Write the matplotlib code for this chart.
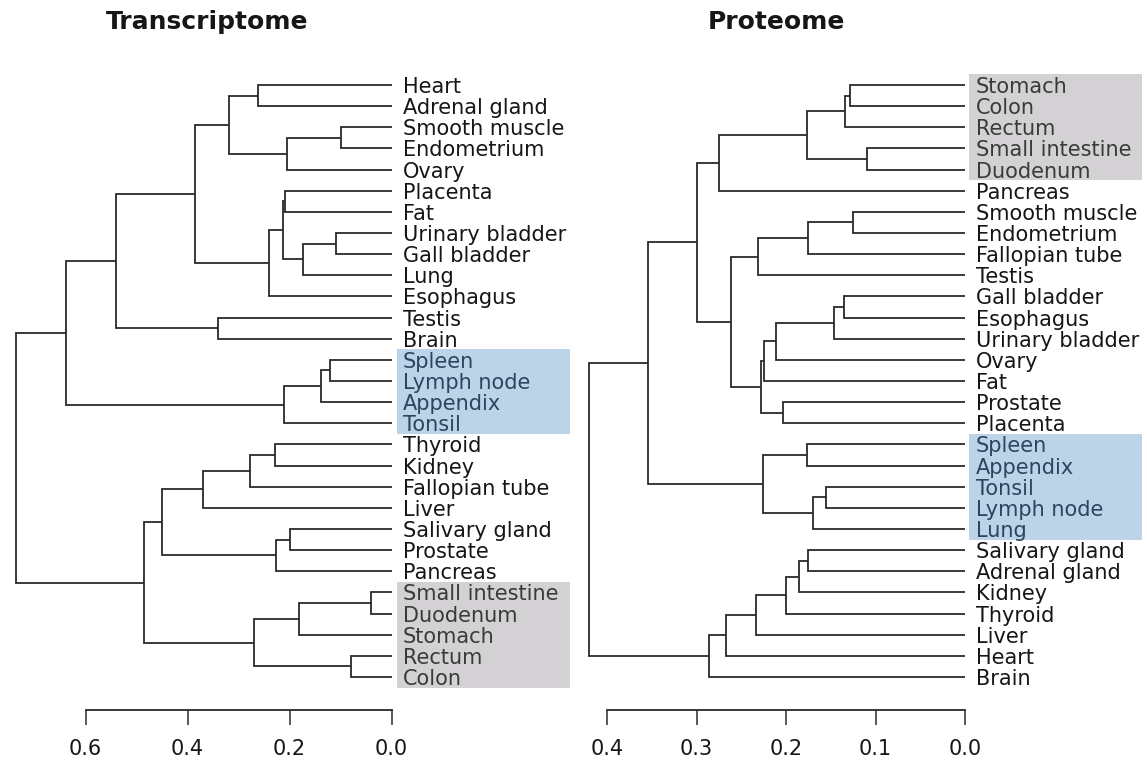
import matplotlib
matplotlib.use("Agg")
import matplotlib.pyplot as plt
from matplotlib.patches import Rectangle

plt.rcParams['font.family'] = ['DejaVu Sans']

W, H = 1147, 767

# Transcriptome clustering: leaf order top to bottom, then merges
# (child, child, height); a string is a leaf, an int is an earlier merge
rna_leaves = ['Heart', 'Adrenal gland', 'Smooth muscle', 'Endometrium', 'Ovary',
              'Placenta', 'Fat', 'Urinary bladder', 'Gall bladder', 'Lung',
              'Esophagus', 'Testis', 'Brain', 'Spleen', 'Lymph node', 'Appendix',
              'Tonsil', 'Thyroid', 'Kidney', 'Fallopian tube', 'Liver',
              'Salivary gland', 'Prostate', 'Pancreas', 'Small intestine',
              'Duodenum', 'Stomach', 'Rectum', 'Colon']
rna_merges = [
    ('Heart', 'Adrenal gland', 0.262),
    ('Smooth muscle', 'Endometrium', 0.099),
    (1, 'Ovary', 0.205),
    (0, 2, 0.319),
    ('Placenta', 'Fat', 0.208),
    ('Urinary bladder', 'Gall bladder', 0.108),
    (5, 'Lung', 0.174),
    (4, 6, 0.213),
    (7, 'Esophagus', 0.240),
    (3, 8, 0.386),
    ('Testis', 'Brain', 0.340),
    (9, 10, 0.540),
    ('Spleen', 'Lymph node', 0.120),
    (12, 'Appendix', 0.138),
    (13, 'Tonsil', 0.210),
    (11, 14, 0.638),
    ('Thyroid', 'Kidney', 0.229),
    (16, 'Fallopian tube', 0.278),
    (17, 'Liver', 0.369),
    ('Salivary gland', 'Prostate', 0.200),
    (19, 'Pancreas', 0.227),
    (18, 20, 0.450),
    ('Small intestine', 'Duodenum', 0.041),
    (22, 'Stomach', 0.182),
    ('Rectum', 'Colon', 0.079),
    (23, 24, 0.269),
    (21, 25, 0.486),
    (15, 26, 0.736),
]
rna_ticks = [0.6, 0.4, 0.2, 0.0]
rna_immune = ['Spleen', 'Lymph node', 'Appendix', 'Tonsil']
rna_gut = ['Small intestine', 'Duodenum', 'Stomach', 'Rectum', 'Colon']

# Proteome clustering
prot_leaves = ['Stomach', 'Colon', 'Rectum', 'Small intestine', 'Duodenum',
               'Pancreas', 'Smooth muscle', 'Endometrium', 'Fallopian tube',
               'Testis', 'Gall bladder', 'Esophagus', 'Urinary bladder', 'Ovary',
               'Fat', 'Prostate', 'Placenta', 'Spleen', 'Appendix', 'Tonsil',
               'Lymph node', 'Lung', 'Salivary gland', 'Adrenal gland', 'Kidney',
               'Thyroid', 'Liver', 'Heart', 'Brain']
prot_merges = [
    ('Stomach', 'Colon', 0.129),
    (0, 'Rectum', 0.134),
    ('Small intestine', 'Duodenum', 0.109),
    (1, 2, 0.177),
    (3, 'Pancreas', 0.275),
    ('Smooth muscle', 'Endometrium', 0.125),
    (5, 'Fallopian tube', 0.175),
    (6, 'Testis', 0.231),
    ('Gall bladder', 'Esophagus', 0.135),
    (8, 'Urinary bladder', 0.146),
    (9, 'Ovary', 0.2115),
    (10, 'Fat', 0.225),
    ('Prostate', 'Placenta', 0.203),
    (11, 12, 0.228),
    (7, 13, 0.261),
    (4, 14, 0.300),
    ('Spleen', 'Appendix', 0.177),
    ('Tonsil', 'Lymph node', 0.155),
    (17, 'Lung', 0.170),
    (16, 18, 0.226),
    (15, 19, 0.354),
    ('Salivary gland', 'Adrenal gland', 0.175),
    (21, 'Kidney', 0.185),
    (22, 'Thyroid', 0.200),
    (23, 'Liver', 0.234),
    (24, 'Heart', 0.267),
    (25, 'Brain', 0.286),
    (20, 26, 0.420),
]
prot_ticks = [0.4, 0.3, 0.2, 0.1, 0.0]
prot_gut = ['Stomach', 'Colon', 'Rectum', 'Small intestine', 'Duodenum']
prot_immune = ['Spleen', 'Appendix', 'Tonsil', 'Lymph node', 'Lung']

LINE = '#2a2a2a'
TEXT = '#161616'
BLUE, BLUE_TXT = '#bdd3e8', '#2e4460'
GREY, GREY_TXT = '#d3d1d3', '#3b3a3b'
LABEL_SIZE = 15


def px_axes(left, top, right, bottom):
    return fig.add_axes([left / W, 1 - bottom / H, (right - left) / W, (bottom - top) / H])


def draw_tree(ax, leaves, merges):
    pos = {name: i for i, name in enumerate(leaves)}
    node_y, node_h = [], []

    def where(c):
        if isinstance(c, str):
            return pos[c], 0.0
        return node_y[c], node_h[c]

    for a, b, h in merges:
        ya, ha = where(a)
        yb, hb = where(b)
        ax.plot([ha, h, h, hb], [ya, ya, yb, yb], color=LINE, lw=1.3,
                solid_joinstyle='miter', solid_capstyle='butt')
        node_y.append((ya + yb) / 2)
        node_h.append(h)


def highlight(ax, leaves, group, color, gap, width):
    # x axis runs right-to-left, so the box sits at negative heights
    idx = [leaves.index(g) for g in group]
    ax.add_patch(Rectangle((-gap - width, min(idx) - 0.5), width, len(idx),
                           facecolor=color, edgecolor='none', clip_on=False, zorder=0))


def setup(ax, xmax, ticks):
    ax.set_xlim(xmax, 0)
    ax.set_ylim(28.5, -0.5)
    for s in ['top', 'left', 'right']:
        ax.spines[s].set_visible(False)
    ax.spines['bottom'].set_position(('outward', 16))
    ax.spines['bottom'].set_bounds(max(ticks), min(ticks))
    ax.spines['bottom'].set_color(LINE)
    ax.spines['bottom'].set_linewidth(1.3)
    ax.set_yticks([])
    ax.set_xticks(ticks)
    ax.set_xticklabels(['%.1f' % t for t in ticks])
    ax.tick_params(axis='x', direction='out', length=11, width=1.1, color=LINE,
                   pad=10, labelsize=LABEL_SIZE, labelcolor=TEXT)
    ax.patch.set_visible(False)


def leaf_labels(ax, leaves, boxed):
    for i, name in enumerate(leaves):
        color = boxed.get(name, TEXT)
        ax.annotate(name, (0, i), xytext=(8, 0), textcoords='offset points',
                    ha='left', va='center_baseline', fontsize=LABEL_SIZE,
                    color=color, zorder=3)


fig = plt.figure(figsize=(W / 100, H / 100), dpi=100)

# left: transcriptome, 510 px per unit, zero at x=391.5
ax1 = px_axes(391.5 - 0.75 * 510, 74.4, 391.5, 687.6)
setup(ax1, 0.75, rna_ticks)
draw_tree(ax1, rna_leaves, rna_merges)
highlight(ax1, rna_leaves, rna_immune, BLUE, 5 / 510, 173 / 510)
highlight(ax1, rna_leaves, rna_gut, GREY, 5 / 510, 173 / 510)
boxed = {n: BLUE_TXT for n in rna_immune}
boxed.update({n: GREY_TXT for n in rna_gut})
leaf_labels(ax1, rna_leaves, boxed)

# right: proteome, 895 px per unit, zero at x=965
ax2 = px_axes(965 - 0.44 * 895, 74.4, 965, 687.6)
setup(ax2, 0.44, prot_ticks)
draw_tree(ax2, prot_leaves, prot_merges)
highlight(ax2, prot_leaves, prot_gut, GREY, 4 / 895, 173 / 895)
highlight(ax2, prot_leaves, prot_immune, BLUE, 4 / 895, 173 / 895)
boxed = {n: GREY_TXT for n in prot_gut}
boxed.update({n: BLUE_TXT for n in prot_immune})
leaf_labels(ax2, prot_leaves, boxed)

fig.text(207 / W, 1 - 22 / H, 'Transcriptome', ha='center', va='center',
         fontsize=18, fontweight='bold', color=TEXT)
fig.text(776 / W, 1 - 22 / H, 'Proteome', ha='center', va='center',
         fontsize=18, fontweight='bold', color=TEXT)

fig.savefig('out.png', dpi=100)
